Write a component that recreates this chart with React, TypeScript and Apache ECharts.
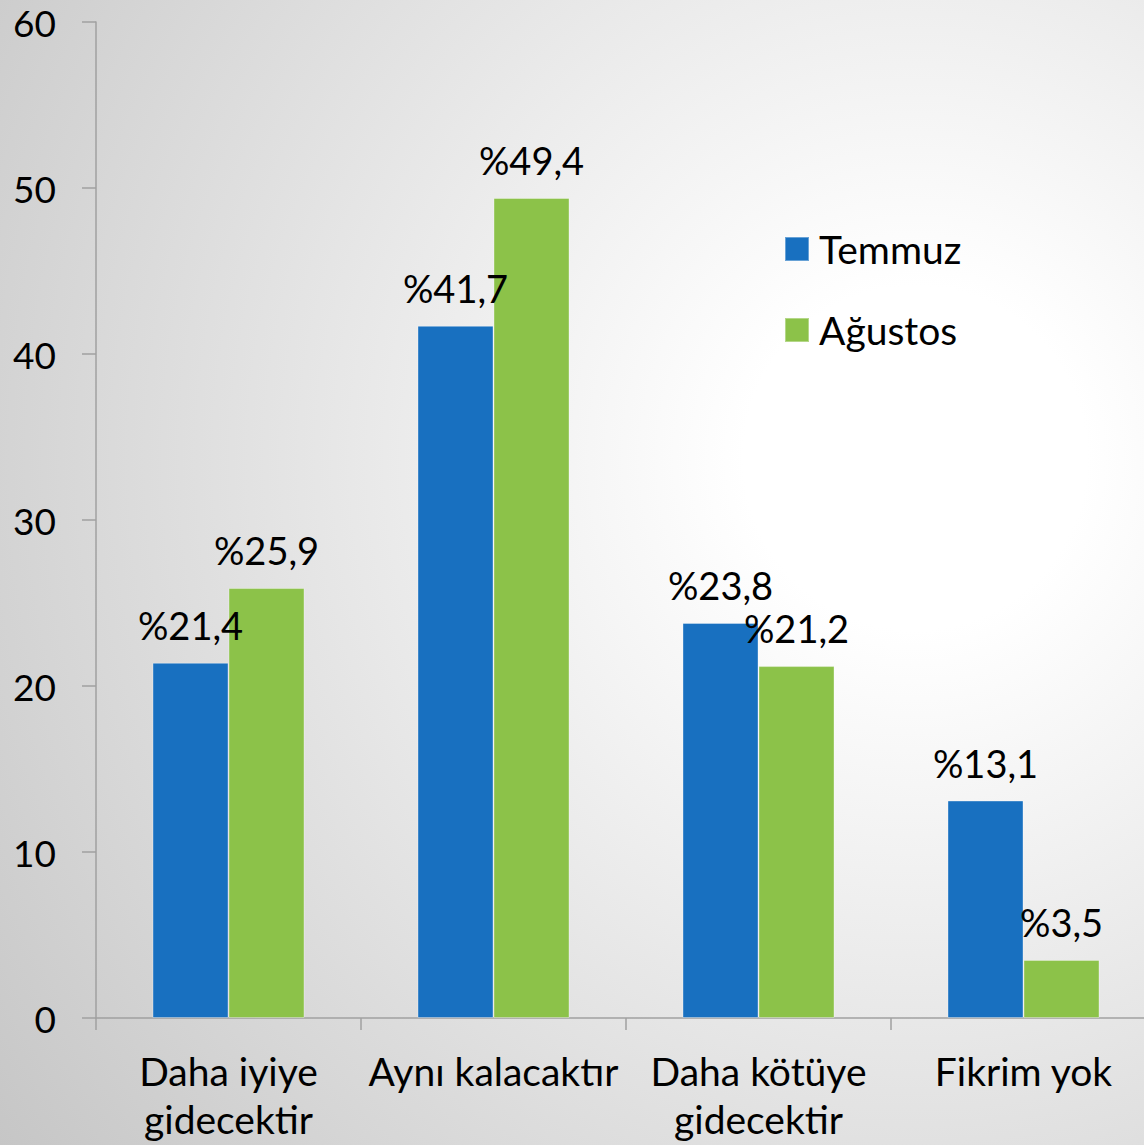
import React, { useEffect, useRef } from "react";
import * as echarts from "echarts";

const categories = ["Daha iyiye\ngidecektir", "Aynı kalacaktır", "Daha kötüye\ngidecektir", "Fikrim yok"];
const seriesNames = ["Temmuz", "Ağustos"];
const temmuz = [21.4, 41.7, 23.8, 13.1];
const agustos = [25.9, 49.4, 21.2, 3.5];
const yTicks = [0, 10, 20, 30, 40, 50, 60];

const FONT = "Lato, 'Open Sans', sans-serif";
const fmt = (v: number) => "%" + v.toFixed(1).replace(".", ",");

export default function App() {
  const ref = useRef<HTMLDivElement>(null);
  useEffect(() => {
    document.body.style.margin = "0";
    const chart = echarts.init(ref.current!, null, { renderer: "svg" });
    const label = {
      show: true,
      position: "top",
      distance: 19,
      color: "#000",
      fontSize: 38,
      fontFamily: FONT,
      formatter: (p: any) => fmt(p.value),
    };
    chart.setOption({
      animation: false,
      backgroundColor: new echarts.graphic.RadialGradient(0.8, 0.4, 1.0, [
        { offset: 0, color: "#ffffff" },
        { offset: 0.15, color: "#ffffff" },
        { offset: 1, color: "#c6c6c6" },
      ]),
      textStyle: { fontFamily: FONT },
      grid: { left: 96, top: 22, bottom: 127, right: -12, outerBoundsMode: "none", containLabel: false },
      legend: {
        orient: "vertical",
        left: 784,
        top: 229,
        padding: 0,
        itemWidth: 24,
        itemHeight: 24,
        itemGap: 41,
        icon: "rect",
        textStyle: { fontSize: 39, lineHeight: 40, color: "#000", fontFamily: FONT, padding: [0, 0, 0, 5] },
        data: seriesNames,
      },
      xAxis: {
        type: "category",
        data: categories,
        axisLine: { lineStyle: { color: "#a0a0a0", width: 1.5 } },
        axisTick: { show: true, length: 12, lineStyle: { color: "#a0a0a0", width: 1.5 } },
        axisLabel: {
          color: "#000",
          fontSize: 39,
          lineHeight: 48,
          margin: 29,
          fontFamily: FONT,
          interval: 0,
        },
      },
      yAxis: {
        type: "value",
        min: yTicks[0],
        max: yTicks[yTicks.length - 1],
        interval: 10,
        splitLine: { show: false },
        axisLine: { show: true, lineStyle: { color: "#a0a0a0", width: 1.5 } },
        axisTick: { show: true, length: 14, lineStyle: { color: "#a0a0a0", width: 1.5 } },
        axisLabel: { color: "#000", fontSize: 37, margin: 40, fontFamily: FONT },
      },
      series: [
        {
          name: seriesNames[0],
          type: "bar",
          data: temmuz,
          barWidth: 76,
          barGap: "0%",
          itemStyle: { color: "#1870c0", borderColor: "rgba(255,255,255,0.35)", borderWidth: 1 },
          label,
        },
        {
          name: seriesNames[1],
          type: "bar",
          data: agustos,
          barWidth: 76,
          barGap: "0%",
          itemStyle: { color: "#8cc249", borderColor: "rgba(255,255,255,0.35)", borderWidth: 1 },
          label,
        },
      ],
    });
    return () => chart.dispose();
  }, []);
  return <div ref={ref} style={{ width: 1144, height: 1145 }} />;
}
